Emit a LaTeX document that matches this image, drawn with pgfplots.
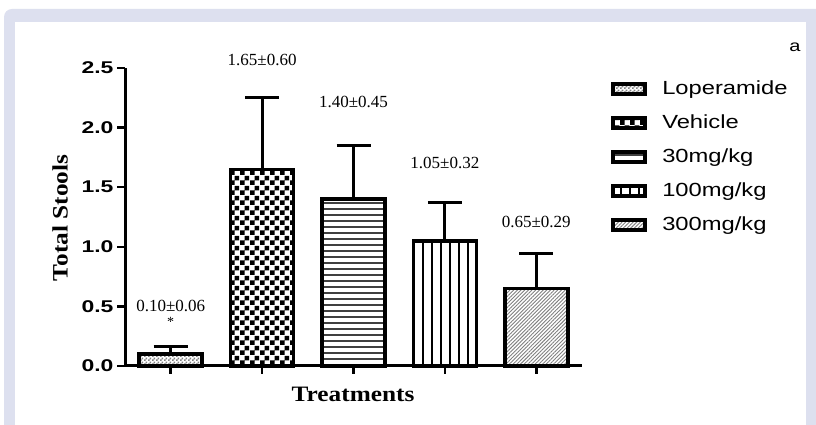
\documentclass[border=0pt]{standalone}
\usepackage{fontspec}
\setmainfont{Liberation Serif}
\newfontfamily\sansS{Liberation Sans}[FakeStretch=1.25]
\newfontfamily\sansT{Liberation Sans}[FakeStretch=1.35]
\newfontfamily\serifX{Liberation Serif}[FakeStretch=1.15]
\usepackage{pgfplots}
\pgfplotsset{compat=1.18}
\usetikzlibrary{patterns,patterns.meta}
\definecolor{lav}{HTML}{DDE0EF}
\pgfdeclarepatternformonly{bigcheck}{\pgfqpoint{0pt}{0pt}}{\pgfqpoint{10pt}{10pt}}{\pgfqpoint{10pt}{10pt}}{%
  \pgfpathrectangle{\pgfqpoint{0pt}{0pt}}{\pgfqpoint{5pt}{5pt}}%
  \pgfpathrectangle{\pgfqpoint{5pt}{5pt}}{\pgfqpoint{5pt}{5pt}}%
  \pgfusepath{fill}}
\pgfdeclarepatternformonly{smallcheck}{\pgfqpoint{0pt}{0pt}}{\pgfqpoint{4pt}{4pt}}{\pgfqpoint{4pt}{4pt}}{%
  \pgfpathrectangle{\pgfqpoint{0pt}{0pt}}{\pgfqpoint{2pt}{2pt}}%
  \pgfpathrectangle{\pgfqpoint{2pt}{2pt}}{\pgfqpoint{2pt}{2pt}}%
  \pgfusepath{fill}}
\begin{document}
\begin{tikzpicture}[x=1pt,y=1pt]
\fill[white] (0,0) rectangle (816,425);
\path[use as bounding box] (0,0) rectangle (816,425);
\fill[lav, rounded corners=8pt] (4,-20) rectangle (840,416);
\fill[white] (15,-5) rectangle (806,403);
\node[font=\sansS\fontsize{16}{18}\selectfont] at (795,378) {a};
\begin{axis}[
  at={(125pt,59pt)}, anchor=south west, scale only axis,
  width=457pt, height=298pt,
  xmin=-0.5, xmax=4.5, ymin=0, ymax=2.5,
  clip=false,
  axis lines=left,
  axis line style={-, line width=3pt, black},
  xtick={0,1,2,3,4}, xticklabels={},
  ytick={0,0.5,1,1.5,2,2.5},
  yticklabel style={/pgf/number format/fixed, /pgf/number format/fixed zerofill, /pgf/number format/precision=1, font=\sansT\bfseries\fontsize{17}{19}\selectfont},
  /pgf/number format/assume math mode=true,
  tick align=outside, major tick length=8pt,
  tick style={line width=2.5pt, black},
  ylabel={Total Stools},
  ylabel style={at={(axis description cs:-0.142,0.497)}, anchor=center, rotate=0, font=\serifX\bfseries\fontsize{22}{24}\selectfont},
  xlabel={Treatments},
  xlabel style={at={(axis description cs:0.499,-0.097)}, anchor=center, font=\serifX\bfseries\fontsize{22}{24}\selectfont},
  legend style={at={(axis description cs:1.057,0.97)}, anchor=north west, draw=none, fill=none,
    font=\sansS\fontsize{19}{22}\selectfont, row sep=14pt, column sep=14pt,
    nodes={inner sep=1pt, text height=14pt, text depth=4pt}},
  legend cell align=left,
  legend image code/.code={\draw[#1, line width=4pt] (0pt,-5pt) rectangle (32pt,5pt);},
  error bars/error bar style={line width=3pt, black},
  error bars/error mark options={line width=3pt, mark size=17pt, black, rotate=90},
]
\addplot[ybar, bar width=63pt, bar shift=0pt, draw=black, line width=3.5pt, pattern=smallcheck, pattern color=gray,
  error bars/.cd, y dir=plus, y explicit] coordinates {(0,0.10) +- (0,0.06)};
\addlegendentry{Loperamide}
\addplot[ybar, bar width=63pt, bar shift=0pt, draw=black, line width=3.5pt, pattern=bigcheck, pattern color=black,
  error bars/.cd, y dir=plus, y explicit] coordinates {(1,1.65) +- (0,0.60)};
\addlegendentry{Vehicle}
\addplot[ybar, bar width=63pt, bar shift=0pt, draw=black, line width=3.5pt, pattern={Lines[angle=0, distance=6pt, line width=1.5pt]}, pattern color=darkgray,
  error bars/.cd, y dir=plus, y explicit] coordinates {(2,1.40) +- (0,0.45)};
\addlegendentry{30mg/kg}
\addplot[ybar, bar width=63pt, bar shift=0pt, draw=black, line width=3.5pt, pattern={Lines[angle=90, distance=9pt, line width=1.5pt]}, pattern color=black,
  error bars/.cd, y dir=plus, y explicit] coordinates {(3,1.05) +- (0,0.32)};
\addlegendentry{100mg/kg}
\addplot[ybar, bar width=63pt, bar shift=0pt, draw=black, line width=3.5pt, pattern={Lines[angle=45, distance=2.6pt, line width=0.9pt]}, pattern color=gray,
  error bars/.cd, y dir=plus, y explicit] coordinates {(4,0.65) +- (0,0.29)};
\addlegendentry{300mg/kg}
\node[font=\fontsize{17}{19}\selectfont] at (axis cs:0,0.50) {0.10±0.06};
\node[font=\fontsize{14}{16}\selectfont] at (axis cs:0,0.37) {*};
\node[font=\fontsize{17}{19}\selectfont] at (axis cs:1,2.567) {1.65±0.60};
\node[font=\fontsize{17}{19}\selectfont] at (axis cs:2,2.215) {1.40±0.45};
\node[font=\fontsize{17}{19}\selectfont] at (axis cs:3,1.70) {1.05±0.32};
\node[font=\fontsize{17}{19}\selectfont] at (axis cs:4,1.21) {0.65±0.29};
\end{axis}
\end{tikzpicture}
\end{document}
